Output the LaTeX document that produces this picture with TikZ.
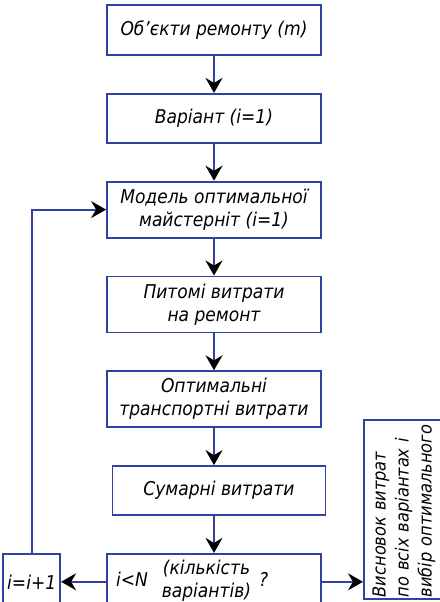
\documentclass[tikz,border=0pt]{standalone}
\usepackage{fontspec}
\setmainfont{DejaVu Sans Condensed}
\usetikzlibrary{arrows.meta,positioning}
\definecolor{FrameBlue}{HTML}{3141A0}

\begin{document}
\begin{tikzpicture}[x=1pt,y=1pt,
  >={Stealth[length=15pt,width=17pt,inset=5pt,color=black]},
  blk/.style={draw=FrameBlue,line width=1.8pt,minimum width=214pt,minimum height=49pt,
    align=center,inner sep=2pt,font=\fontsize{19}{23}\selectfont\itshape},
  tall/.style={minimum height=56pt},
  link/.style={->,draw=FrameBlue,line width=1.8pt},
  node distance=37pt]
\useasboundingbox (0,0) rectangle (439,-602);
% main column
\node[blk,minimum height=50pt] (obj) at (214,-30) {Об'єкти ремонту (m)};
\node[blk,below=of obj] (var) {Варіант (i=1)};
\node[blk,tall,below=of var] (model) {Модель оптимальної\\ майстерніт (i=1)};
\node[blk,tall,below=of model] (unit) {Питомі витрати\\ на ремонт};
\node[blk,tall,below=of unit] (trans) {Оптимальні\\ транспортні витрати};
\node[blk,below=of trans,xshift=5pt,minimum width=213pt] (sum) {Сумарні витрати};
\node[blk,tall,below=of sum,xshift=-5pt,align=left,text width=204pt] (check)
  {\hspace*{4pt}i<N\hspace{14pt}\begin{tabular}{@{}c@{}}(кількість\\ варіантів)\end{tabular}\hspace{8pt}?};
% side boxes
\node[blk,tall,minimum width=57pt,left=45pt of check] (incr) {i=i+1};
\node[blk,rotate=90,anchor=north west,minimum width=179pt,minimum height=80pt,
  align=left,text width=175pt,font=\fontsize{18}{23}\selectfont\itshape] (concl) at (363,-600)
  {Висновок витрат\\ по всіх варіантах і\\ вибір оптимального};
% connectors
\foreach \a/\b in {obj/var,var/model,model/unit,unit/trans,trans/sum,sum/check}
  \draw[link] (obj.south |- \a.south) -- (obj.south |- \b.north);
\draw[link] (check.west) -- (incr.east);
\draw[link] (incr.north) |- (model.west);
\draw[link] (check.east) -- (check.east -| concl.north);
\end{tikzpicture}
\end{document}
